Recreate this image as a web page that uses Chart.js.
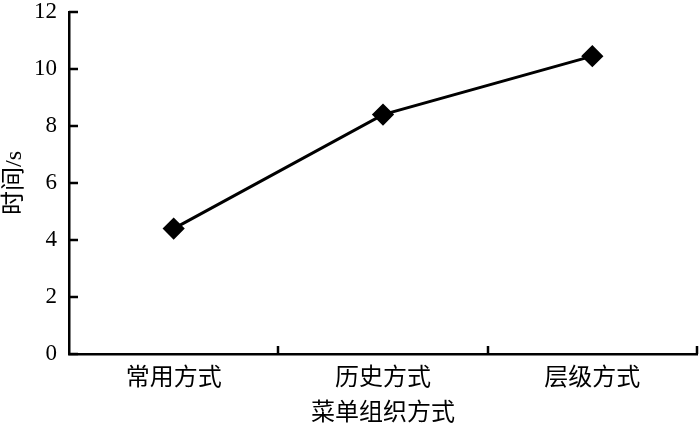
<!DOCTYPE html>
<html>
<head>
<meta charset="utf-8">
<script src="https://cdn.jsdelivr.net/npm/chart.js@4"></script>
<style>
  html, body { margin: 0; padding: 0; background: #fff; overflow: hidden; }
  #wrap { width: 700px; height: 428px; }
</style>
</head>
<body>
<div id="wrap"><canvas id="myChart"></canvas></div>
<script>
const categories = ["常用方式", "历史方式", "层级方式"];
const times = [4.4, 8.4, 10.45];
const yMin = 0, yMax = 12, yStep = 2;

const FONT = "'Liberation Serif', 'Times New Roman', 'Noto Sans CJK SC', serif";

// ticks pointing into the plot, like the original figure
const innerTicks = {
  id: "innerTicks",
  afterDraw(chart) {
    const c = chart.ctx;
    const x = chart.scales.x;
    const y = chart.scales.y;
    c.save();
    c.strokeStyle = "#000";
    c.lineWidth = 2.5;
    c.beginPath();
    y.ticks.forEach((t, i) => {
      const py = Math.round(y.getPixelForTick(i));
      c.moveTo(x.left, py);
      c.lineTo(x.left + 9, py);
    });
    const half = (x.getPixelForTick(1) - x.getPixelForTick(0)) / 2;
    for (let i = 0; i < categories.length; i++) {
      const px = Math.round(x.getPixelForTick(i) + half);
      c.moveTo(px, y.bottom);
      c.lineTo(px, y.bottom - 8);
    }
    c.stroke();
    c.restore();
  },
};

const ctx = document.getElementById("myChart").getContext("2d");
new Chart(ctx, {
  type: "line",
  data: {
    labels: categories,
    datasets: [
      {
        data: times,
        borderColor: "#000",
        backgroundColor: "#000",
        borderWidth: 3,
        pointStyle: "rectRot",
        pointRadius: 9,
        pointHoverRadius: 9,
        tension: 0,
      },
    ],
  },
  options: {
    responsive: true,
    maintainAspectRatio: false,
    animation: false,
    layout: { autoPadding: false, padding: { top: 12, right: 3, left: 0, bottom: 0 } },
    plugins: {
      legend: { display: false },
      tooltip: { enabled: false },
    },
    scales: {
      x: {
        offset: true,
        grid: { display: false, drawTicks: false },
        border: { display: true, color: "#000", width: 2.5 },
        ticks: {
          color: "#000",
          padding: 10,
          maxRotation: 0,
          font: { family: FONT, size: 24 },
        },
        title: {
          display: true,
          text: "菜单组织方式",
          color: "#000",
          padding: { top: 0, bottom: 0 },
          font: { family: FONT, size: 24 },
        },
        afterFit(s) {
          s.height = 74;
          s.paddingLeft = 0;
          s.paddingRight = 0;
        },
      },
      y: {
        min: yMin,
        max: yMax,
        grid: { display: false, drawTicks: false },
        border: { display: true, color: "#000", width: 2.5 },
        ticks: {
          stepSize: yStep,
          color: "#000",
          padding: 12,
          font: { family: FONT, size: 23 },
        },
        title: {
          display: true,
          text: "时间/s",
          color: "#000",
          padding: { top: 0, bottom: 0 },
          font: { family: FONT, size: 24 },
        },
        afterFit(s) {
          s.width = 69;
          s.paddingTop = 0;
          s.paddingBottom = 0;
        },
      },
    },
  },
  plugins: [innerTicks],
});
</script>
</body>
</html>
